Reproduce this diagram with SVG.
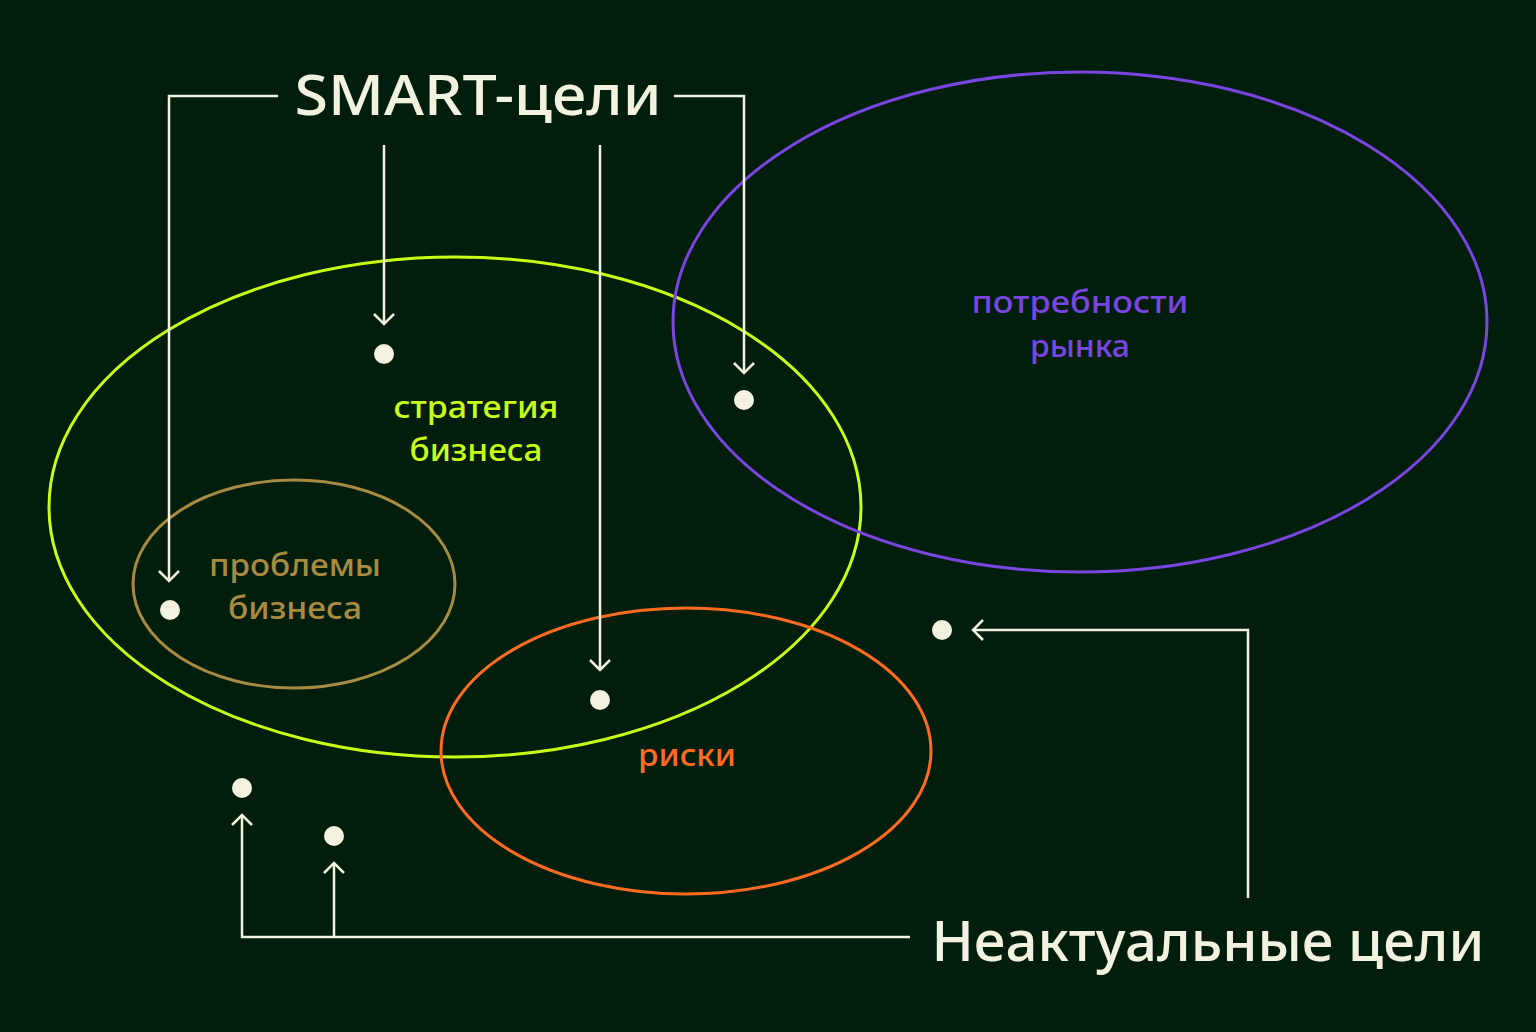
<svg xmlns="http://www.w3.org/2000/svg" width="1536" height="1032" viewBox="0 0 1536 1032">
<defs>
<style>
.bg{fill:#011e0d}
.ell{fill:none;stroke-width:3}
.con{fill:none;stroke:#f3f1df;stroke-width:2.5}
.dot{fill:#f3f1df}
.big{font-family:"Noto Sans","Liberation Sans",sans-serif;font-weight:500;font-size:57px;fill:#f3f1df}
.lbl{font-family:"Noto Sans","Liberation Sans",sans-serif;font-weight:500;font-size:31px;text-anchor:middle}
</style>
<marker id="ah" markerWidth="24" markerHeight="24" viewBox="-12 -12 24 24" refX="0" refY="0" orient="auto" markerUnits="userSpaceOnUse">
<path d="M-10,-10 L0,0 L-10,10" fill="none" stroke="#f3f1df" stroke-width="2.5"/>
</marker>
</defs>
<rect class="bg" x="0" y="0" width="1536" height="1032"/>
<g id="strategy">
<ellipse class="ell" cx="455" cy="507" rx="406" ry="250" stroke="#c8ff14"/>
<text class="lbl" x="476" y="418" fill="#c8ff14" textLength="165" lengthAdjust="spacingAndGlyphs">стратегия</text>
<text class="lbl" x="476" y="461" fill="#c8ff14" textLength="133" lengthAdjust="spacingAndGlyphs">бизнеса</text>
</g>
<g id="market">
<ellipse class="ell" cx="1080" cy="322" rx="407" ry="250" stroke="#7a45e0"/>
<text class="lbl" x="1080" y="313" fill="#7a45e0" textLength="217" lengthAdjust="spacingAndGlyphs">потребности</text>
<text class="lbl" x="1080" y="357" fill="#7a45e0" textLength="100" lengthAdjust="spacingAndGlyphs">рынка</text>
</g>
<g id="problems">
<ellipse class="ell" cx="294" cy="584" rx="161" ry="104" stroke="#a88a40"/>
<text class="lbl" x="295" y="576" fill="#a88a40" textLength="172" lengthAdjust="spacingAndGlyphs">проблемы</text>
<text class="lbl" x="295" y="619" fill="#a88a40" textLength="134" lengthAdjust="spacingAndGlyphs">бизнеса</text>
</g>
<g id="risks">
<ellipse class="ell" cx="686" cy="751" rx="245" ry="143" stroke="#ff6b1f"/>
<text class="lbl" x="687" y="766" fill="#ff6b1f" textLength="98" lengthAdjust="spacingAndGlyphs">риски</text>
</g>
<g id="smart">
<text class="big" x="478" y="115" text-anchor="middle" textLength="367" lengthAdjust="spacingAndGlyphs">SMART-цели</text>
</g>
<g id="irrelevant">
<text class="big" x="1208" y="961" text-anchor="middle" textLength="553" lengthAdjust="spacingAndGlyphs">Неактуальные цели</text>
</g>
<g id="points">
<circle class="dot" cx="384" cy="354" r="10"/>
<circle class="dot" cx="744" cy="400" r="10"/>
<circle class="dot" cx="170" cy="610" r="10"/>
<circle class="dot" cx="600" cy="700" r="10"/>
<circle class="dot" cx="942" cy="630" r="10"/>
<circle class="dot" cx="242" cy="788" r="10"/>
<circle class="dot" cx="334" cy="836" r="10"/>
</g>
<g id="connectors">
<path class="con" d="M278,96 H169 V581" marker-end="url(#ah)"/>
<path class="con" d="M674,96 H744 V373" marker-end="url(#ah)"/>
<path class="con" d="M384,145 V324" marker-end="url(#ah)"/>
<path class="con" d="M600,145 V670" marker-end="url(#ah)"/>
<path class="con" d="M1248,898 V630 H973" marker-end="url(#ah)"/>
<path class="con" d="M910,937 H242 V815" marker-end="url(#ah)"/>
<path class="con" d="M334,937 V863" marker-end="url(#ah)"/>
</g>
</svg>
